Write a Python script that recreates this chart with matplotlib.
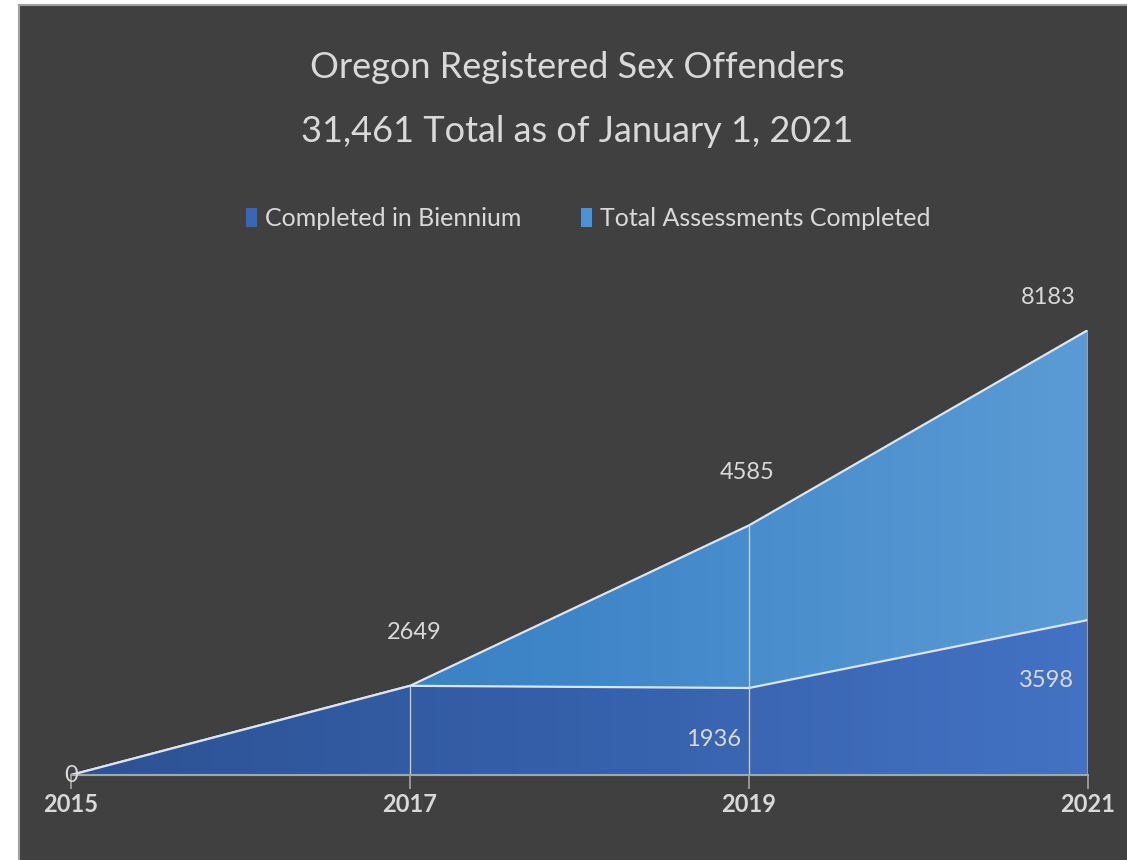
import numpy as np
import matplotlib.pyplot as plt
from matplotlib.colors import LinearSegmentedColormap
from matplotlib.patches import Patch

# Data
years = [2015, 2017, 2019, 2021]
# heights as drawn in the picture
biennium_drawn = [0, 1640, 1600, 2850]
total_drawn = [0, 1640, 4590, 8183]
# data labels shown on the chart
biennium_labels = ["0", "", "1936", "3598"]
total_labels = ["", "2649", "4585", "8183"]

title = "Oregon Registered Sex Offenders"
subtitle = "31,461 Total as of January 1, 2021"
series_names = ["Completed in Biennium", "Total Assessments Completed"]

# Style
bg = "#404040"
txt = "#d9d9d9"
fonts = ["Lato", "DejaVu Sans"]
plt.rcParams["font.family"] = fonts

W, H = 1127, 860
fig = plt.figure(figsize=(W / 100, H / 100), dpi=100)
fig.patch.set_facecolor("white")

# dark panel with a grey border (white margin on left and top)
panel = fig.add_axes([19 / W, 0, 1 - 19 / W, 1 - 5 / H])
panel.set_facecolor(bg)
panel.set_xticks([])
panel.set_yticks([])
for s in ["bottom", "right"]:
    panel.spines[s].set_visible(False)
for s in ["left", "top"]:
    panel.spines[s].set_color("#a0a0a0")
    panel.spines[s].set_linewidth(1.5)

x0, x1 = 71, 1088
y0, y1 = 775, 330
ax = fig.add_axes([x0 / W, (H - y0) / H, (x1 - x0) / W, (y0 - y1) / H])
ax.set_facecolor("none")

cmap_light = LinearSegmentedColormap.from_list("light", ["#347abd", "#3f86c8", "#5b9bd5"])
cmap_dark = LinearSegmentedColormap.from_list("dark", ["#2d5294", "#3560aa", "#4472c4"])
grad = np.linspace(0, 1, 256).reshape(1, -1)


def gradient_area(yvals, cmap, z):
    poly = ax.fill_between(years, yvals, 0, color="none", zorder=z)
    im = ax.imshow(grad, cmap=cmap, aspect="auto", zorder=z,
                   extent=[years[0], years[-1], 0, max(total_drawn)], origin="lower")
    im.set_clip_path(poly.get_paths()[0], ax.transData)
    ax.plot(years, yvals, color="#dce6f2", lw=1.6, zorder=z + 0.5)


gradient_area(total_drawn, cmap_light, 1)
gradient_area(biennium_drawn, cmap_dark, 2)
ax.set_xlim(years[0], years[-1])
ax.set_ylim(0, max(total_drawn))

# drop lines
for i in (1, 2):
    ax.plot([years[i], years[i]], [0, total_drawn[i]], color="#c9d6ea", lw=0.9, zorder=4)
ax.plot([years[-1], years[-1]], [0, total_drawn[-1]], color="#a6a6a6", lw=1.2, zorder=4)

for s in ["left", "right", "top"]:
    ax.spines[s].set_visible(False)
ax.spines["bottom"].set_color("#a6a6a6")
ax.spines["bottom"].set_linewidth(1.5)
ax.spines["bottom"].set_zorder(5)
ax.set_yticks([])
ax.set_xticks(years)
ax.set_xticklabels([str(y) for y in years], fontweight="bold", fontsize=17, color=txt)
ax.tick_params(axis="x", length=10, width=1.2, color="#a6a6a6", pad=3)

# data labels
lab_kw = dict(textcoords="offset pixels", fontsize=17, color=txt, zorder=6,
              annotation_clip=False)
ax.annotate(biennium_labels[0], (years[0], biennium_drawn[0]), xytext=(0, 0),
            ha="center", va="center", **lab_kw)
ax.annotate(total_labels[1], (years[1], total_drawn[1]), xytext=(4, 53),
            ha="center", va="center", **lab_kw)
ax.annotate(total_labels[2], (years[2], total_drawn[2]), xytext=(-2, 53),
            ha="center", va="center", **lab_kw)
ax.annotate(total_labels[3], (years[3], total_drawn[3]), xytext=(-12, 32),
            ha="right", va="center", **lab_kw)
ax.annotate(biennium_labels[2], (years[2], biennium_drawn[2]), xytext=(-8, -52),
            ha="right", va="center", **lab_kw)
ax.annotate(biennium_labels[3], (years[3], biennium_drawn[3]), xytext=(-14, -60),
            ha="right", va="center", **lab_kw)

# titles
fig.text(577 / W, 1 - 68 / H, title, ha="center", va="center", fontsize=26, color=txt)
fig.text(577 / W, 1 - 132 / H, subtitle, ha="center", va="center", fontsize=26, color=txt)

# legend
handles = [Patch(facecolor="#3a66b6", edgecolor="none"),
           Patch(facecolor="#4b93d2", edgecolor="none")]
fig.legend(handles, series_names, loc="center", bbox_to_anchor=(588 / W, 1 - 219 / H),
           ncol=2, frameon=False, fontsize=18, labelcolor=txt,
           handlelength=0.45, handleheight=0.8, handletextpad=0.3, columnspacing=2.4)

fig.savefig("out.png", dpi=100, facecolor=fig.get_facecolor())
